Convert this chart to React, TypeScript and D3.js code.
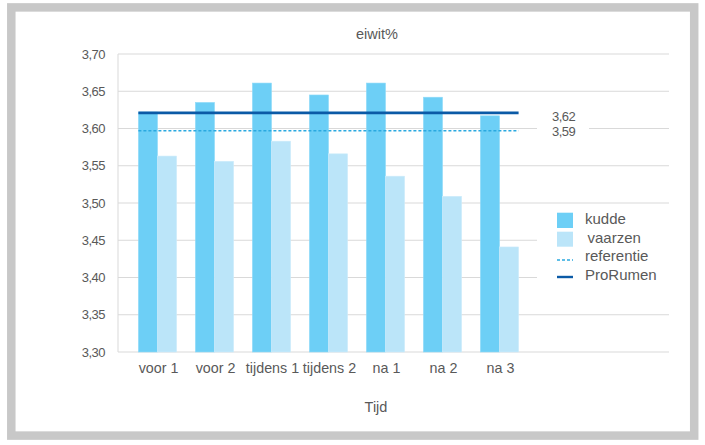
import React from "react";
import * as d3 from "d3";

const categories = ["voor 1", "voor 2", "tijdens 1", "tijdens 2", "na 1", "na 2", "na 3"];
const kudde = [3.622, 3.635, 3.661, 3.645, 3.661, 3.642, 3.617];
const vaarzen = [3.563, 3.556, 3.583, 3.566, 3.536, 3.509, 3.441];
const proRumen = 3.621;
const referentie = 3.597;
const lineLabels = ["3,62", "3,59"];
const yTicks = [3.3, 3.35, 3.4, 3.45, 3.5, 3.55, 3.6, 3.65, 3.7];
const legendNames = ["kudde", "vaarzen", "referentie", "ProRumen"];
const title = "eiwit%";
const xTitle = "Tijd";

const W = 705;
const H = 445;
const C_KUDDE = "#6dcff6";
const C_VAARZEN = "#bbe5f9";
const C_PRO = "#0b5aa6";
const C_REF = "#2aa9e0";
const C_TEXT = "#595959";
const C_GRID = "#d9d9d9";
const FONT = "'Liberation Sans', Arial, sans-serif";

export default function App() {
  const plotLeft = 118;
  const plotRight = 669;
  const y = d3.scaleLinear().domain([3.3, 3.7]).range([352, 54]);
  const x = d3
    .scaleBand<string>()
    .domain(categories)
    .range([129, 528])
    .paddingInner(0.33)
    .paddingOuter(0.165);
  const sub = d3
    .scaleBand<string>()
    .domain(["kudde", "vaarzen"])
    .range([0, x.bandwidth()]);

  const fmt = (v: number) => d3.format(".2f")(v).replace(".", ",");
  const lineX0 = x(categories[0])!;
  const lineX1 = x(categories[categories.length - 1])! + x.bandwidth();

  return (
    <svg
      width={W}
      height={H}
      style={{ position: "absolute", left: 0, top: 0, background: "#fff", fontFamily: FONT }}
    >
      <rect x={0} y={0} width={W} height={H} fill="#fff" />
      <rect x={11.3} y={7.4} width={682.9} height={428.2} fill="none" stroke="#c8c8c8" strokeWidth={8.5} />

      <text x={377} y={38.5} textAnchor="middle" fontSize={14.5} fill={C_TEXT}>
        {title}
      </text>

      {/* gridlines */}
      {yTicks.map((t) => (
        <line key={t} x1={plotLeft} x2={plotRight} y1={y(t)} y2={y(t)} stroke={C_GRID} strokeWidth={1} />
      ))}
      <line x1={plotLeft} x2={plotLeft} y1={y(3.7)} y2={y(3.3)} stroke={C_GRID} strokeWidth={1} />

      {/* y tick labels */}
      {yTicks.map((t) => (
        <text key={"l" + t} x={105} y={y(t)} dy="0.36em" textAnchor="end" fontSize={13} fill={C_TEXT} letterSpacing={-0.5}>
          {fmt(t)}
        </text>
      ))}

      {/* bars */}
      {categories.map((c, i) => (
        <g key={c} transform={`translate(${x(c)},0)`}>
          <rect
            x={sub("kudde")}
            y={y(kudde[i])}
            width={sub.bandwidth()}
            height={y(3.3) - y(kudde[i])}
            fill={C_KUDDE}
            stroke="#8fdaf8"
            strokeWidth={0.6}
          />
          <rect
            x={sub("vaarzen")}
            y={y(vaarzen[i])}
            width={sub.bandwidth()}
            height={y(3.3) - y(vaarzen[i])}
            fill={C_VAARZEN}
            stroke="#cdecfb"
            strokeWidth={0.6}
          />
        </g>
      ))}

      {/* x labels */}
      {categories.map((c) => (
        <text key={"x" + c} x={x(c)! + x.bandwidth() / 2 + 1} y={373} textAnchor="middle" fontSize={14.3} fill={C_TEXT}>
          {c}
        </text>
      ))}
      <text x={376} y={412} textAnchor="middle" fontSize={14.5} fill={C_TEXT}>
        {xTitle}
      </text>

      {/* reference lines */}
      <line x1={lineX0} x2={lineX1} y1={y(referentie)} y2={y(referentie)} stroke={C_REF} strokeWidth={1.3} strokeDasharray="3,2" />
      <line x1={lineX0} x2={lineX1} y1={y(proRumen)} y2={y(proRumen)} stroke={C_PRO} strokeWidth={2.6} />

      {/* value labels */}
      <rect x={537} y={106} width={52} height={34} fill="#fff" />
      <text x={552} y={116} dy="0.36em" fontSize={13} fill={C_TEXT} letterSpacing={-0.5}>
        {lineLabels[0]}
      </text>
      <text x={552} y={131.5} dy="0.36em" fontSize={13} fill={C_TEXT} letterSpacing={-0.5}>
        {lineLabels[1]}
      </text>

      {/* legend */}
      <rect x={537} y={207} width={133} height={84} fill="#fff" />
      <rect x={557} y={212.7} width={16} height={15.3} fill={C_KUDDE} />
      <rect x={557} y={231.7} width={16} height={15} fill={C_VAARZEN} />
      <line x1={557} x2={573} y1={260} y2={260} stroke={C_REF} strokeWidth={1.3} strokeDasharray="3,2" />
      <line x1={557} x2={573} y1={277} y2={277} stroke={C_PRO} strokeWidth={2.4} />
      {legendNames.map((n, i) => (
        <text key={n} x={i === 1 ? 587.5 : 585} y={224 + i * 18.5} fontSize={15} fill={C_TEXT}>
          {n}
        </text>
      ))}
    </svg>
  );
}
